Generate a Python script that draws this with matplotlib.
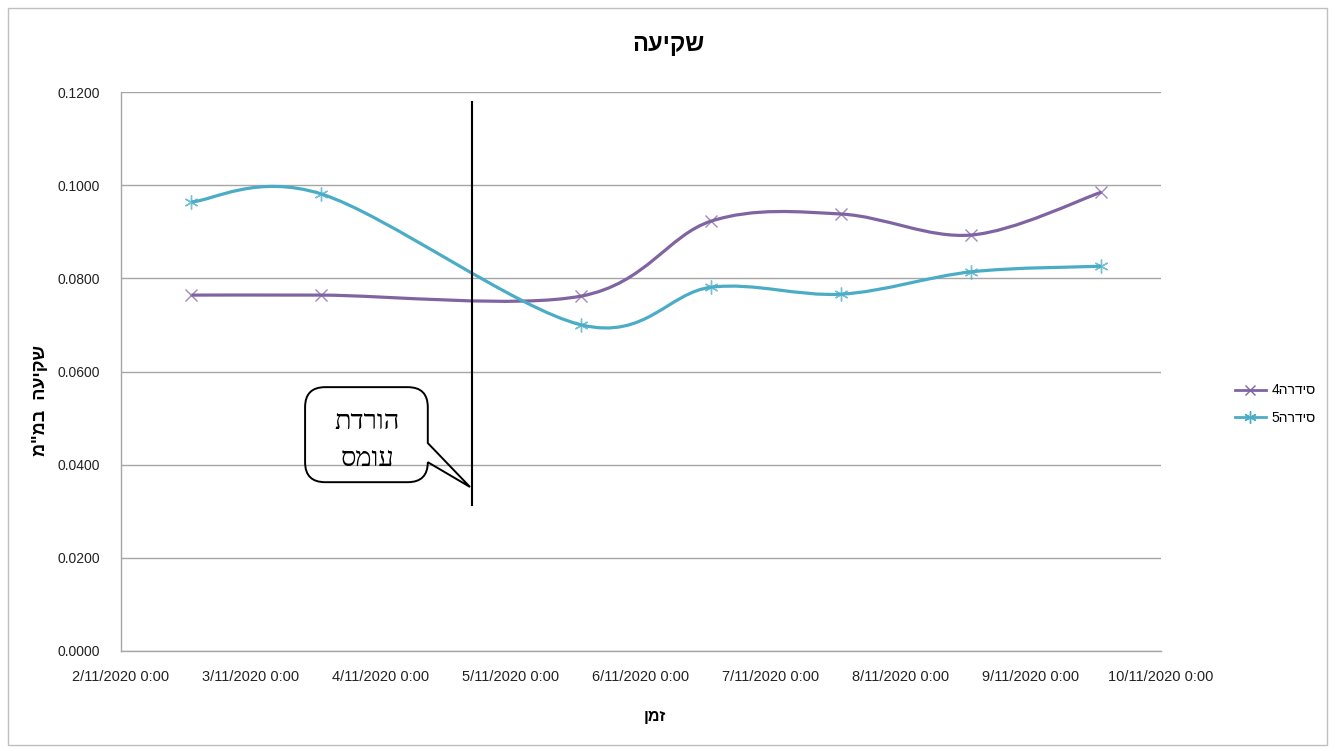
import matplotlib
matplotlib.use("Agg")
import matplotlib.pyplot as plt
import matplotlib.dates as mdates
from matplotlib.path import Path
from matplotlib.patches import PathPatch, Rectangle
from matplotlib.lines import Line2D
import numpy as np
import datetime as dt

plt.rcParams['font.family'] = ['Liberation Sans', 'DejaVu Sans']

# measurement times (one reading per day, early afternoon)
times = [dt.datetime(2020, 11, d, 13, 0) for d in (2, 3, 5, 6, 7, 8, 9)]
series4 = [0.0764, 0.0764, 0.0762, 0.0923, 0.0938, 0.0893, 0.0985]
series5 = [0.0964, 0.0981, 0.0700, 0.0781, 0.0766, 0.0814, 0.0826]

tick_days = [dt.datetime(2020, 11, d) for d in range(2, 11)]
y_ticks = [0.0, 0.02, 0.04, 0.06, 0.08, 0.10, 0.12]

# Hebrew strings are stored in logical order and flipped for LTR drawing
def rtl(s):
    return s[::-1]

TITLE = "שקיעה"
Y_LABEL = 'שקיעה  במ"מ'
X_LABEL = "זמן"
NOTE_LINES = ["הורדת", "עומס"]
SERIES_NAME = "סידרה"

PURPLE = "#8064A2"
TEAL = "#4BACC6"


# smooth curve like a spreadsheet "smoothed line": cubic bezier, tension 1/6
def smooth_path(x, y):
    x = np.asarray(x, float)
    y = np.asarray(y, float)
    n = len(x)
    px = np.concatenate([[x[0]], x, [x[-1]]])
    py = np.concatenate([[y[0]], y, [y[-1]]])
    verts = [(x[0], y[0])]
    codes = [Path.MOVETO]
    for i in range(n - 1):
        j = i + 1
        c1 = (px[j] + (px[j + 1] - px[j - 1]) / 6, py[j] + (py[j + 1] - py[j - 1]) / 6)
        c2 = (px[j + 1] - (px[j + 2] - px[j]) / 6, py[j + 1] - (py[j + 2] - py[j]) / 6)
        verts += [c1, c2, (x[i + 1], y[i + 1])]
        codes += [Path.CURVE4] * 3
    return Path(verts, codes)


fig = plt.figure(figsize=(13.35, 7.51), dpi=100)
ax = fig.add_axes([121 / 1335, 1 - 651 / 751, 1040 / 1335, 559 / 751])

xnum = mdates.date2num(times)
for vals, col, mk, ms in [(series4, PURPLE, "x", 8), (series5, TEAL, (6, 2, 0), 10)]:
    ax.add_patch(PathPatch(smooth_path(xnum, vals), facecolor="none",
                           edgecolor=col, lw=2.3, zorder=3))
    ax.plot(times, vals, linestyle="none", marker=mk, markersize=ms,
            markeredgecolor=col, markeredgewidth=1.0, alpha=0.75, zorder=4)

ax.set_xlim(tick_days[0], tick_days[-1])
ax.set_ylim(0, 0.12)
ax.set_xticks(tick_days)
ax.xaxis.set_major_formatter(mdates.DateFormatter("%-d/%m/%Y %-H:%M"))
ax.set_yticks(y_ticks)
ax.yaxis.set_major_formatter(plt.FuncFormatter(lambda v, p: f"{v:.4f}"))
ax.tick_params(length=0, labelsize=10, colors="#222222")
ax.tick_params(axis="x", pad=14, labelsize=10.5)
ax.tick_params(axis="y", pad=15)
ax.grid(axis="y", color="#A6A6A6", lw=1.0)
ax.set_axisbelow(True)
for side in ("top", "right"):
    ax.spines[side].set_visible(False)
for side in ("left", "bottom"):
    ax.spines[side].set_color("#A6A6A6")
    ax.spines[side].set_linewidth(1.0)

fig.text(668 / 1335, 1 - 44 / 751, rtl(TITLE), ha="center", va="center",
         fontsize=17, fontweight="bold")
fig.text(41 / 1335, 1 - 400 / 751, rtl(Y_LABEL), ha="center", va="center",
         rotation=90, fontsize=13, fontweight="bold")
fig.text(655 / 1335, 1 - 716 / 751, rtl(X_LABEL), ha="center", va="center",
         fontsize=11.5, fontweight="bold")

# load-reduction marker line
ax.add_line(Line2D([0.3375, 0.3375], [0.261, 0.982], transform=ax.transAxes,
                   color="black", lw=1.5, zorder=5))

# callout bubble with a tail pointing to the marker line
L, R, T, B = 0.177, 0.295, 0.472, 0.302
rx, ry = 20 / 1040, 20 / 559
tip = (0.3356, 0.2934)
verts = [(L + rx, T), (R - rx, T), (R, T), (R, T - ry), (R, 0.372), tip,
         (R, B + ry), (R, B), (R - rx, B), (L + rx, B), (L, B), (L, B + ry),
         (L, T - ry), (L, T), (L + rx, T), (L + rx, T)]
codes = [Path.MOVETO, Path.LINETO, Path.CURVE3, Path.CURVE3, Path.LINETO,
         Path.LINETO, Path.LINETO, Path.CURVE3, Path.CURVE3, Path.LINETO,
         Path.CURVE3, Path.CURVE3, Path.LINETO, Path.CURVE3, Path.CURVE3,
         Path.CLOSEPOLY]
ax.add_patch(PathPatch(Path(verts, codes), transform=ax.transAxes,
                       facecolor="none", edgecolor="black", lw=1.4, zorder=5))
for k, line in enumerate(NOTE_LINES):
    ax.text(0.237, 0.410 - k * 0.068, rtl(line), transform=ax.transAxes,
            ha="center", va="center", fontsize=19.5,
            family=["Liberation Serif", "DejaVu Serif"], zorder=6)

handles = [Line2D([], [], color=PURPLE, lw=2, marker="x", markersize=7,
                  markeredgewidth=1.0),
           Line2D([], [], color=TEAL, lw=2, marker=(6, 2, 0), markersize=9,
                  markeredgewidth=1.0)]
labels = ["4" + rtl(SERIES_NAME), "5" + rtl(SERIES_NAME)]
fig.legend(handles, labels, loc="center left", frameon=False, fontsize=10,
           bbox_to_anchor=(1222 / 1335, 1 - 404 / 751), handlelength=2.3,
           handletextpad=0.35, labelspacing=0.95)

# chart area frame
fig.add_artist(Rectangle((8 / 1335, 6 / 751), 1319 / 1335, 737 / 751,
                         transform=fig.transFigure, fill=False,
                         edgecolor="#BFBFBF", lw=1.0))

fig.savefig("out.png", dpi=100)
